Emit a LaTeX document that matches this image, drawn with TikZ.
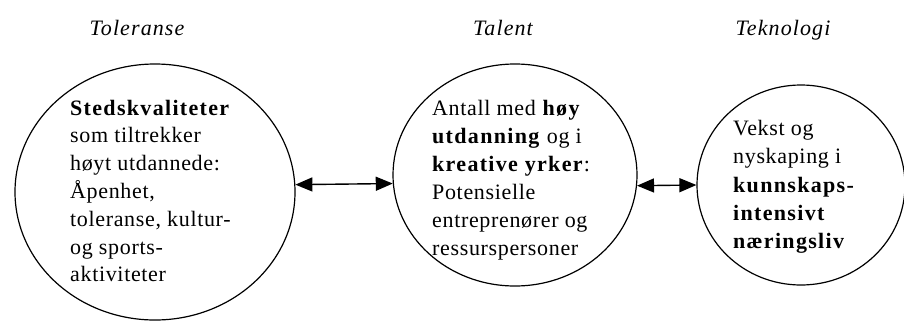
\documentclass[tikz,border=0pt]{standalone}
\usepackage{fontspec}
\setmainfont{Liberation Serif}[LetterSpace=3,BoldFeatures={LetterSpace=6},ItalicFeatures={LetterSpace=5}]
\usetikzlibrary{shapes.geometric,arrows.meta}
\begin{document}
\begin{tikzpicture}[x=1pt,y=-1pt,
  bubble/.style={ellipse,draw,line width=1.2pt,inner sep=0pt},
  txt/.style={anchor=base west,inner sep=0pt,font=\fontsize{22}{26}\selectfont},
  ttl/.style={anchor=base,inner sep=0pt,font=\fontsize{22}{26}\selectfont\itshape},
  link/.style={{Triangle[length=17pt,width=14pt]}-{Triangle[length=17pt,width=14pt]},line width=1.4pt}]
\useasboundingbox (0,0) rectangle (904,322);
% circles
\node[bubble,minimum width=280pt,minimum height=256pt] (L) at (155,192) {};
\node[bubble,minimum width=244pt,minimum height=222pt] (M) at (515,175) {};
\node[bubble,minimum width=208pt,minimum height=200pt] (R) at (801,185) {};
% titles
\node[ttl] (tL) at (137,35) {Toleranse};
\node[ttl] (tM) at (503,35) {Talent};
\node[ttl] (tR) at (783,35) {Teknologi};
% left text
\foreach \yy/\tt [count=\i] in {115/{\textbf{Stedskvaliteter}},142.8/{som tiltrekker},170.6/{høyt utdannede:},198.4/{Åpenhet,},226.2/{toleranse, kultur-},254/{og sports-},281.8/{aktiviteter}}
  \node[txt] (a\i) at (70,\yy) {\tt};
% middle text
\foreach \yy/\tt [count=\i] in {115/{Antall med \textbf{høy}},143/{\textbf{utdanning} og i},171/{\textbf{kreative yrker}:},199/{Potensielle},227/{entreprenører og},255/{ressurspersoner}}
  \node[txt] (b\i) at (432,\yy) {\tt};
% right text
\foreach \yy/\tt [count=\i] in {135/{Vekst og},163/{nyskaping i},192/{\textbf{kunnskaps-}},220/{\textbf{intensivt}},248/{\textbf{næringsliv}}}
  \node[txt] (c\i) at (733,\yy) {\tt};
% arrows
\draw[link] (L.3) -- (M.184.7);
\draw[link] (M.355.3) -- (R.west);
\end{tikzpicture}
\end{document}
